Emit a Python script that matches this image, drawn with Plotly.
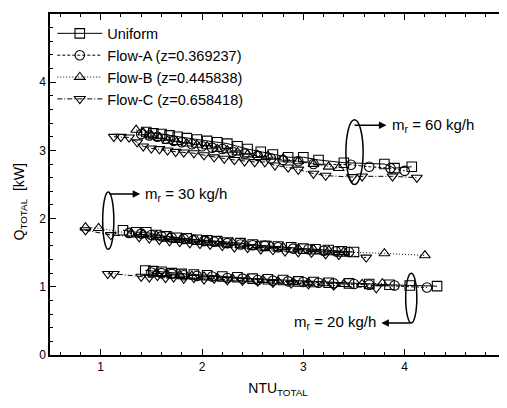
import plotly.graph_objects as go

# ---------------- data ----------------
series_names = ["Uniform", "Flow-A (z=0.369237)", "Flow-B (z=0.445838)", "Flow-C (z=0.658418)"]

# m_r = 60 kg/h
u60_x = [1.45, 1.52, 1.60, 1.68, 1.76, 1.85, 1.95, 2.05, 2.15, 2.25, 2.35, 2.45, 2.58, 2.70, 2.85, 3.00, 3.15, 3.40, 3.80, 3.90, 4.07]
u60_y = [3.27, 3.25, 3.24, 3.22, 3.20, 3.18, 3.16, 3.14, 3.12, 3.10, 3.06, 3.02, 2.98, 2.94, 2.90, 2.90, 2.86, 2.82, 2.80, 2.74, 2.76]
a60_x = [1.40, 1.48, 1.56, 1.64, 1.72, 1.80, 1.90, 2.00, 2.10, 2.20, 2.30, 2.42, 2.55, 2.68, 2.80, 2.95, 3.10, 3.47, 3.65, 3.86, 4.00]
a60_y = [3.24, 3.22, 3.20, 3.17, 3.14, 3.12, 3.09, 3.06, 3.04, 3.02, 2.98, 2.95, 2.92, 2.88, 2.86, 2.84, 2.80, 2.79, 2.76, 2.74, 2.70]
b60_x = [1.35, 1.42, 1.50, 1.58, 1.66, 1.75, 1.85, 1.95, 2.05, 2.15, 2.25, 2.35, 2.45, 2.55, 2.65, 2.80, 2.95, 3.10, 3.25, 3.35]
b60_y = [3.30, 3.26, 3.22, 3.18, 3.14, 3.12, 3.10, 3.08, 3.06, 3.02, 3.00, 2.97, 2.94, 2.93, 2.92, 2.88, 2.84, 2.80, 2.76, 2.74]
c60_x = [1.13, 1.20, 1.28, 1.36, 1.42, 1.50, 1.58, 1.66, 1.74, 1.82, 1.92, 2.02, 2.12, 2.22, 2.32, 2.42, 2.52, 2.62, 2.72, 2.85, 2.95, 3.10, 3.22, 3.48, 3.58, 3.88, 4.12]
c60_y = [3.20, 3.20, 3.19, 3.12, 3.06, 3.03, 3.02, 3.00, 2.98, 2.97, 2.96, 2.93, 2.90, 2.88, 2.86, 2.84, 2.83, 2.83, 2.78, 2.75, 2.72, 2.66, 2.63, 2.61, 2.62, 2.62, 2.60]

# m_r = 30 kg/h
u30_x = [1.22, 1.35, 1.45, 1.55, 1.65, 1.75, 1.85, 1.95, 2.05, 2.15, 2.25, 2.38, 2.50, 2.62, 2.75, 2.88, 3.00, 3.12, 3.25, 3.38, 3.50]
u30_y = [1.83, 1.80, 1.80, 1.76, 1.74, 1.72, 1.71, 1.69, 1.68, 1.67, 1.65, 1.64, 1.62, 1.60, 1.59, 1.58, 1.56, 1.55, 1.54, 1.52, 1.51]
a30_x = [1.28, 1.40, 1.50, 1.60, 1.70, 1.82, 1.92, 2.02, 2.12, 2.25, 2.38, 2.50, 2.62, 2.75, 2.90, 3.05, 3.20, 3.32, 3.45]
a30_y = [1.79, 1.78, 1.76, 1.74, 1.72, 1.70, 1.69, 1.67, 1.66, 1.64, 1.62, 1.61, 1.60, 1.58, 1.56, 1.55, 1.53, 1.52, 1.51]
b30_x = [0.85, 0.98, 1.30, 1.42, 1.55, 1.68, 1.80, 1.92, 2.05, 2.18, 2.30, 2.42, 2.55, 2.68, 2.80, 2.95, 3.10, 3.25, 3.40, 3.80, 4.20]
b30_y = [1.87, 1.86, 1.78, 1.77, 1.75, 1.73, 1.71, 1.69, 1.68, 1.66, 1.65, 1.63, 1.61, 1.60, 1.58, 1.56, 1.55, 1.53, 1.51, 1.49, 1.46]
c30_x = [0.85, 1.10, 1.38, 1.48, 1.58, 1.68, 1.78, 1.88, 1.98, 2.08, 2.20, 2.32, 2.45, 2.58, 2.70, 2.82, 2.95, 3.08, 3.22, 3.35, 3.62]
c30_y = [1.83, 1.76, 1.73, 1.71, 1.69, 1.67, 1.66, 1.64, 1.63, 1.62, 1.60, 1.58, 1.57, 1.55, 1.54, 1.52, 1.51, 1.50, 1.48, 1.47, 1.43]

# m_r = 20 kg/h
u20_x = [1.44, 1.52, 1.60, 1.70, 1.80, 1.92, 2.05, 2.20, 2.35, 2.50, 2.65, 2.80, 2.95, 3.10, 3.25, 3.45, 3.65, 3.85, 4.05, 4.32]
u20_y = [1.24, 1.23, 1.22, 1.20, 1.19, 1.18, 1.17, 1.15, 1.14, 1.12, 1.11, 1.10, 1.08, 1.07, 1.06, 1.05, 1.04, 1.03, 1.02, 1.01]
a20_x = [1.50, 1.60, 1.70, 1.82, 1.95, 2.10, 2.25, 2.40, 2.55, 2.70, 2.85, 3.00, 3.15, 3.30, 3.50, 3.65, 3.90, 4.22]
a20_y = [1.21, 1.20, 1.19, 1.17, 1.16, 1.15, 1.13, 1.12, 1.10, 1.09, 1.08, 1.07, 1.06, 1.05, 1.04, 1.03, 1.02, 0.99]
b20_x = [1.55, 1.65, 1.78, 1.90, 2.02, 2.15, 2.30, 2.45, 2.60, 2.75, 2.90, 3.05, 3.20, 3.40, 3.58, 3.78]
b20_y = [1.20, 1.19, 1.17, 1.16, 1.15, 1.13, 1.12, 1.11, 1.10, 1.08, 1.07, 1.06, 1.05, 1.04, 1.04, 1.05]
c20_x = [1.07, 1.13, 1.40, 1.48, 1.56, 1.64, 1.72, 1.82, 1.92, 2.02, 2.12, 2.25, 2.40, 2.55, 2.70, 2.88, 3.05, 3.30, 3.72]
c20_y = [1.19, 1.19, 1.15, 1.14, 1.16, 1.13, 1.14, 1.12, 1.13, 1.11, 1.12, 1.10, 1.09, 1.08, 1.06, 1.05, 1.04, 1.02, 0.98]

x_tick_vals = [1, 2, 3, 4, 5]
y_tick_vals = [0, 1, 2, 3, 4, 5]
flow_labels = ["m<sub>r</sub> = 60 kg/h", "m<sub>r</sub> = 30 kg/h", "m<sub>r</sub> = 20 kg/h"]
x_title = "NTU<sub>TOTAL</sub>"
y_title = "Q<sub>TOTAL</sub>  [kW]"

# ---------------- styling ----------------
FONT = "Liberation Sans, Arial, Helvetica, sans-serif"
styles = [
    dict(symbol="square-open", dash="solid", width=1.0),
    dict(symbol="circle-open", dash="3px,2px", width=1.0),
    dict(symbol="triangle-up-open", dash="1px,2px", width=1.0),
    dict(symbol="triangle-down-open", dash="5px,2px,1px,2px", width=1.0),
]

groups = [
    [(u60_x, u60_y), (a60_x, a60_y), (b60_x, b60_y), (c60_x, c60_y)],
    [(u30_x, u30_y), (a30_x, a30_y), (b30_x, b30_y), (c30_x, c30_y)],
    [(u20_x, u20_y), (a20_x, a20_y), (b20_x, b20_y), (c20_x, c20_y)],
]

fig = go.Figure()
for gi, grp in enumerate(groups):
    for si, (xs, ys) in enumerate(grp):
        st = styles[si]
        fig.add_trace(go.Scatter(
            x=xs, y=ys, mode="lines+markers",
            name=series_names[si], legendgroup=series_names[si],
            showlegend=(gi == 0),
            line=dict(color="black", width=st["width"], dash=st["dash"]),
            marker=dict(symbol=st["symbol"], size=9.5, color="black",
                        line=dict(color="black", width=1.1)),
        ))

# ellipses
ellipses = [(3.42, 3.59, 2.50, 3.45), (1.02, 1.13, 1.55, 2.39), (4.01, 4.12, 0.47, 1.20)]
for x0, x1, y0, y1 in ellipses:
    fig.add_shape(type="circle", xref="x", yref="y", x0=x0, x1=x1, y0=y0, y1=y1,
                  line=dict(color="black", width=1.5))

# arrows + labels
arrows = [  # tail (ax, ay) -> head (x, y), label position
    dict(ax=3.49, ay=3.37, x=3.82, y=3.37, tx=3.86, anchor="left"),
    dict(ax=1.07, ay=2.36, x=1.39, y=2.36, tx=1.42, anchor="left"),
    dict(ax=4.07, ay=0.47, x=3.77, y=0.47, tx=3.74, anchor="right"),
]
for lab, a in zip(flow_labels, arrows):
    fig.add_annotation(x=a["x"], y=a["y"], ax=a["ax"], ay=a["ay"], xref="x", yref="y",
                       axref="x", ayref="y", text="", showarrow=True,
                       arrowhead=2, arrowsize=1, arrowwidth=1.5, arrowcolor="black")
    fig.add_annotation(x=a["tx"], y=a["y"], xref="x", yref="y", text=lab, showarrow=False,
                       xanchor=a["anchor"], yanchor="middle",
                       font=dict(family=FONT, size=15, color="black"))

# y-axis title (placed slightly below the centre, as in the reference)
fig.add_annotation(x=-0.066, y=0.45, xref="paper", yref="paper", text=y_title,
                   textangle=-90, showarrow=False, xanchor="center", yanchor="middle",
                   font=dict(family=FONT, size=14, color="black"))

axis_common = dict(
    showline=True, linecolor="black", linewidth=1.5, mirror="ticks",
    ticks="inside", ticklen=6, tickwidth=1.2, tickcolor="black",
    showgrid=False, zeroline=False, automargin=False,
    tickfont=dict(family=FONT, size=12, color="black"),
    minor=dict(ticks="inside", ticklen=3.5, tickwidth=1, tickcolor="black", dtick=0.2, showgrid=False),
)

fig.update_xaxes(range=[0.5, 5], tickvals=x_tick_vals,
                 title=dict(text=x_title, font=dict(family=FONT, size=14, color="black"), standoff=10),
                 **axis_common)
fig.update_yaxes(range=[0, 5], tickvals=y_tick_vals, **axis_common)

# the page body adds an 8 px offset, so the figure is sized to fit the 507x408 window
fig.update_layout(
    width=499, height=400,
    margin=dict(l=42, r=1, t=6, b=53),
    paper_bgcolor="white", plot_bgcolor="white",
    font=dict(family=FONT, color="black"),
    legend=dict(x=0.005, y=0.99, xanchor="left", yanchor="top",
                bgcolor="rgba(0,0,0,0)", borderwidth=0,
                font=dict(family=FONT, size=14.5, color="black"),
                tracegroupgap=0, itemwidth=45),
)

fig.write_html("out.html")
